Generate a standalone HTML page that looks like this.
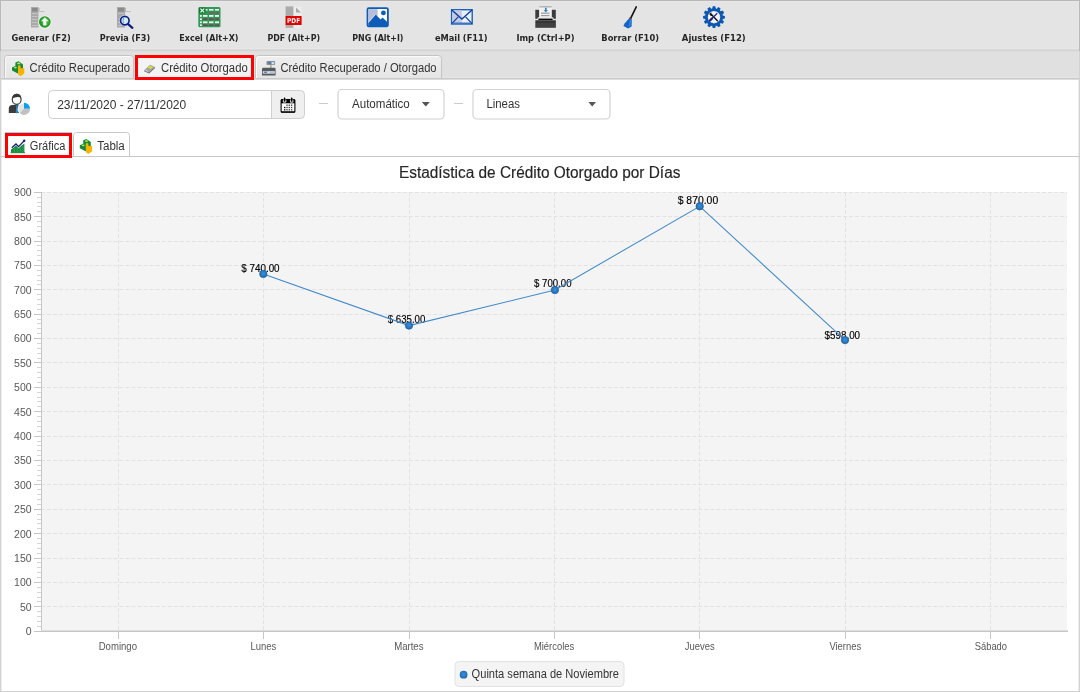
<!DOCTYPE html>
<html><head><meta charset="utf-8"><title>Estadística de Crédito Otorgado</title>
<style>
html,body{margin:0;padding:0;width:1080px;height:692px;overflow:hidden;background:#fff;}
svg{display:block;}
text{white-space:pre;}
</style></head><body>
<svg width="1080" height="692" viewBox="0 0 1080 692" shape-rendering="auto">
<defs>
<linearGradient id="tabg" x1="0" y1="0" x2="0" y2="1"><stop offset="0" stop-color="#efefef"/><stop offset="1" stop-color="#e5e5e5"/></linearGradient>
<radialGradient id="dot" cx="0.5" cy="0.45" r="0.55"><stop offset="0" stop-color="#3a8fd6"/><stop offset="0.6" stop-color="#2a7bc4"/><stop offset="1" stop-color="#1e65a8"/></radialGradient>
</defs>
<rect x="0" y="0" width="1080" height="692" fill="#fff"/>
<rect x="0" y="0" width="1080" height="50" fill="#e4e4e4"/>
<rect x="0" y="48" width="1080" height="1" fill="#e7e7e7"/>
<rect x="0" y="49" width="1080" height="1" fill="#dadada"/>
<rect x="0" y="50" width="1080" height="1" fill="#d4d4d4"/>
<rect x="0" y="51" width="1080" height="26" fill="#e0e0e0"/>
<rect x="0" y="51" width="1080" height="1" fill="#dcdcdc"/>
<rect x="0" y="77" width="1080" height="1" fill="#e6e6e6"/>
<rect x="0" y="78" width="1080" height="1" fill="#c9c9c9"/>
<rect x="0" y="79" width="1080" height="1" fill="#dcdcdc"/>
<rect x="0" y="0" width="1080" height="1" fill="#b8b8b8"/>
<rect x="1" y="1" width="1078" height="1" fill="#e8e8e8"/>
<rect x="0" y="0" width="1" height="51" fill="#b8b8b8"/>
<rect x="1079" y="0" width="1" height="51" fill="#b8b8b8"/>
<rect x="1" y="1" width="1" height="47" fill="#e8e8e8"/>
<rect x="1078" y="1" width="1" height="47" fill="#e8e8e8"/>
<rect x="0" y="51" width="1" height="641" fill="#d2d2d2"/>
<rect x="1079" y="51" width="1" height="641" fill="#d2d2d2"/>
<rect x="1" y="80" width="1" height="611" fill="#ececec"/>
<rect x="1078" y="80" width="1" height="611" fill="#ececec"/>
<rect x="0" y="691" width="1080" height="1" fill="#d0d0d0"/>
<text x="11.4" y="41.0" font-family="DejaVu Sans Condensed, sans-serif" font-size="9.5" font-weight="700" fill="#262626" text-anchor="start" textLength="59.3" lengthAdjust="spacingAndGlyphs" >Generar (F2)</text>
<text x="99.8" y="41.0" font-family="DejaVu Sans Condensed, sans-serif" font-size="9.5" font-weight="700" fill="#262626" text-anchor="start" textLength="50.3" lengthAdjust="spacingAndGlyphs" >Previa (F3)</text>
<text x="179.3" y="41.0" font-family="DejaVu Sans Condensed, sans-serif" font-size="9.5" font-weight="700" fill="#262626" text-anchor="start" textLength="59.2" lengthAdjust="spacingAndGlyphs" >Excel (Alt+X)</text>
<text x="267.4" y="41.0" font-family="DejaVu Sans Condensed, sans-serif" font-size="9.5" font-weight="700" fill="#262626" text-anchor="start" textLength="52.7" lengthAdjust="spacingAndGlyphs" >PDF (Alt+P)</text>
<text x="352.3" y="41.0" font-family="DejaVu Sans Condensed, sans-serif" font-size="9.5" font-weight="700" fill="#262626" text-anchor="start" textLength="51.2" lengthAdjust="spacingAndGlyphs" >PNG (Alt+I)</text>
<text x="434.9" y="41.0" font-family="DejaVu Sans Condensed, sans-serif" font-size="9.5" font-weight="700" fill="#262626" text-anchor="start" textLength="52.7" lengthAdjust="spacingAndGlyphs" >eMail (F11)</text>
<text x="516.4" y="41.0" font-family="DejaVu Sans Condensed, sans-serif" font-size="9.5" font-weight="700" fill="#262626" text-anchor="start" textLength="58.1" lengthAdjust="spacingAndGlyphs" >Imp (Ctrl+P)</text>
<text x="601.3" y="41.0" font-family="DejaVu Sans Condensed, sans-serif" font-size="9.5" font-weight="700" fill="#262626" text-anchor="start" textLength="57.7" lengthAdjust="spacingAndGlyphs" >Borrar (F10)</text>
<text x="681.8" y="41.0" font-family="DejaVu Sans Condensed, sans-serif" font-size="9.5" font-weight="700" fill="#262626" text-anchor="start" textLength="63.9" lengthAdjust="spacingAndGlyphs" >Ajustes (F12)</text>
<path d="M4.5,78 V58.5 Q4.5,55.5 7.5,55.5 H130.5 Q133.5,55.5 133.5,58.5 V78" fill="url(#tabg)" stroke="#c4c4c4" stroke-width="1"/>
<path d="M5.5,78 V58.5 Q5.5,56.5 7.5,56.5 H130.5" fill="none" stroke="#fafafa" stroke-width="1"/>
<path d="M255.5,78 V58.5 Q255.5,55.5 258.5,55.5 H438.5 Q441.5,55.5 441.5,58.5 V78" fill="url(#tabg)" stroke="#c4c4c4" stroke-width="1"/>
<path d="M256.5,78 V58.5 Q256.5,56.5 258.5,56.5 H438.5" fill="none" stroke="#fafafa" stroke-width="1"/>
<rect x="136" y="56" width="117" height="23" fill="#f3f3f3"/>
<rect x="136.5" y="56.5" width="116" height="22" fill="none" stroke="#ff0000" stroke-width="3"/>
<text x="29.6" y="72.2" font-family="Liberation Sans, sans-serif" font-size="12" font-weight="400" fill="#333" text-anchor="start" textLength="100.4" lengthAdjust="spacingAndGlyphs" >Crédito Recuperado</text>
<text x="161.1" y="72.0" font-family="Liberation Sans, sans-serif" font-size="12" font-weight="400" fill="#333" text-anchor="start" textLength="86.6" lengthAdjust="spacingAndGlyphs" >Crédito Otorgado</text>
<text x="280.4" y="72.2" font-family="Liberation Sans, sans-serif" font-size="12" font-weight="400" fill="#333" text-anchor="start" textLength="156.2" lengthAdjust="spacingAndGlyphs" >Crédito Recuperado / Otorgado</text>
<path d="M52.5,90.5 H271.5 V118.5 H52.5 Q48.5,118.5 48.5,114.5 V94.5 Q48.5,90.5 52.5,90.5 Z" fill="#fff" stroke="#cfcfcf"/>
<path d="M271.5,90.5 H300.5 Q304.5,90.5 304.5,94.5 V114.5 Q304.5,118.5 300.5,118.5 H271.5 Z" fill="#efefef" stroke="#cfcfcf"/>
<text x="57.2" y="108.6" font-family="Liberation Sans, sans-serif" font-size="12" font-weight="400" fill="#333" text-anchor="start" textLength="129" lengthAdjust="spacingAndGlyphs" >23/11/2020 - 27/11/2020</text>
<rect x="319" y="103" width="9" height="1" fill="#cccccc"/>
<rect x="454" y="103" width="9" height="1" fill="#cccccc"/>
<rect x="338" y="89.5" width="106" height="29.5" rx="4" fill="#fff" stroke="#d2d2d2" stroke-width="1.2"/>
<rect x="473" y="89.5" width="137" height="29.5" rx="4" fill="#fff" stroke="#d2d2d2" stroke-width="1.2"/>
<text x="352.0" y="108.0" font-family="Liberation Sans, sans-serif" font-size="12" font-weight="400" fill="#333" text-anchor="start" textLength="57.8" lengthAdjust="spacingAndGlyphs" >Automático</text>
<text x="486.4" y="108.0" font-family="Liberation Sans, sans-serif" font-size="12" font-weight="400" fill="#333" text-anchor="start" textLength="33.6" lengthAdjust="spacingAndGlyphs" >Lineas</text>
<path d="M421.8,102 h8 l-4,4.6 z" fill="#555"/>
<path d="M588.4,102 h7.6 l-3.8,4.6 z" fill="#555"/>
<rect x="0" y="156" width="1080" height="1" fill="#c8c8c8"/>
<path d="M73.5,156 V135.5 Q73.5,132.5 76.5,132.5 H126.5 Q129.5,132.5 129.5,135.5 V156" fill="#fff" stroke="#c8c8c8"/>
<rect x="5" y="132" width="67" height="1" fill="#8fd3f5"/>
<rect x="5" y="133" width="67" height="24" fill="#fff"/>
<rect x="6.5" y="134.5" width="64" height="22" fill="none" stroke="#ff0000" stroke-width="3"/>
<text x="29.8" y="150.0" font-family="Liberation Sans, sans-serif" font-size="12" font-weight="400" fill="#333" text-anchor="start" textLength="35.6" lengthAdjust="spacingAndGlyphs" >Gráfica</text>
<text x="97.2" y="149.8" font-family="Liberation Sans, sans-serif" font-size="12" font-weight="400" fill="#333" text-anchor="start" textLength="27.6" lengthAdjust="spacingAndGlyphs" >Tabla</text>
<rect x="42" y="192" width="1025" height="439" fill="#f4f4f4"/>
<line x1="41" y1="606.5" x2="1067" y2="606.5" stroke="#e2e2e2" stroke-width="1" stroke-dasharray="4.02 2.01"/>
<line x1="41" y1="582.5" x2="1067" y2="582.5" stroke="#e2e2e2" stroke-width="1" stroke-dasharray="4.02 2.01"/>
<line x1="41" y1="558.5" x2="1067" y2="558.5" stroke="#e2e2e2" stroke-width="1" stroke-dasharray="4.02 2.01"/>
<line x1="41" y1="533.5" x2="1067" y2="533.5" stroke="#e2e2e2" stroke-width="1" stroke-dasharray="4.02 2.01"/>
<line x1="41" y1="509.5" x2="1067" y2="509.5" stroke="#e2e2e2" stroke-width="1" stroke-dasharray="4.02 2.01"/>
<line x1="41" y1="484.5" x2="1067" y2="484.5" stroke="#e2e2e2" stroke-width="1" stroke-dasharray="4.02 2.01"/>
<line x1="41" y1="460.5" x2="1067" y2="460.5" stroke="#e2e2e2" stroke-width="1" stroke-dasharray="4.02 2.01"/>
<line x1="41" y1="436.5" x2="1067" y2="436.5" stroke="#e2e2e2" stroke-width="1" stroke-dasharray="4.02 2.01"/>
<line x1="41" y1="411.5" x2="1067" y2="411.5" stroke="#e2e2e2" stroke-width="1" stroke-dasharray="4.02 2.01"/>
<line x1="41" y1="387.5" x2="1067" y2="387.5" stroke="#e2e2e2" stroke-width="1" stroke-dasharray="4.02 2.01"/>
<line x1="41" y1="362.5" x2="1067" y2="362.5" stroke="#e2e2e2" stroke-width="1" stroke-dasharray="4.02 2.01"/>
<line x1="41" y1="338.5" x2="1067" y2="338.5" stroke="#e2e2e2" stroke-width="1" stroke-dasharray="4.02 2.01"/>
<line x1="41" y1="314.5" x2="1067" y2="314.5" stroke="#e2e2e2" stroke-width="1" stroke-dasharray="4.02 2.01"/>
<line x1="41" y1="289.5" x2="1067" y2="289.5" stroke="#e2e2e2" stroke-width="1" stroke-dasharray="4.02 2.01"/>
<line x1="41" y1="265.5" x2="1067" y2="265.5" stroke="#e2e2e2" stroke-width="1" stroke-dasharray="4.02 2.01"/>
<line x1="41" y1="241.5" x2="1067" y2="241.5" stroke="#e2e2e2" stroke-width="1" stroke-dasharray="4.02 2.01"/>
<line x1="41" y1="216.5" x2="1067" y2="216.5" stroke="#e2e2e2" stroke-width="1" stroke-dasharray="4.02 2.01"/>
<line x1="41" y1="192.5" x2="1067" y2="192.5" stroke="#e2e2e2" stroke-width="1" stroke-dasharray="4.02 2.01"/>
<line x1="118.5" y1="192" x2="118.5" y2="631" stroke="#e2e2e2" stroke-width="1" stroke-dasharray="4.02 2.01"/>
<line x1="263.5" y1="192" x2="263.5" y2="631" stroke="#e2e2e2" stroke-width="1" stroke-dasharray="4.02 2.01"/>
<line x1="409.5" y1="192" x2="409.5" y2="631" stroke="#e2e2e2" stroke-width="1" stroke-dasharray="4.02 2.01"/>
<line x1="554.5" y1="192" x2="554.5" y2="631" stroke="#e2e2e2" stroke-width="1" stroke-dasharray="4.02 2.01"/>
<line x1="699.5" y1="192" x2="699.5" y2="631" stroke="#e2e2e2" stroke-width="1" stroke-dasharray="4.02 2.01"/>
<line x1="845.5" y1="192" x2="845.5" y2="631" stroke="#e2e2e2" stroke-width="1" stroke-dasharray="4.02 2.01"/>
<line x1="990.5" y1="192" x2="990.5" y2="631" stroke="#e2e2e2" stroke-width="1" stroke-dasharray="4.02 2.01"/>
<rect x="41" y="192" width="1" height="440" fill="#c6c6c6"/>
<rect x="34" y="631" width="7" height="1" fill="#c6c6c6"/>
<rect x="37" y="626" width="4" height="1" fill="#d4d4d4"/>
<rect x="37" y="621" width="4" height="1" fill="#d4d4d4"/>
<rect x="37" y="616" width="4" height="1" fill="#d4d4d4"/>
<rect x="37" y="611" width="4" height="1" fill="#d4d4d4"/>
<text x="31.6" y="635.0" font-family="Liberation Sans, sans-serif" font-size="10.5" font-weight="400" fill="#575757" text-anchor="end" >0</text>
<rect x="34" y="606" width="7" height="1" fill="#c6c6c6"/>
<rect x="37" y="601" width="4" height="1" fill="#d4d4d4"/>
<rect x="37" y="597" width="4" height="1" fill="#d4d4d4"/>
<rect x="37" y="592" width="4" height="1" fill="#d4d4d4"/>
<rect x="37" y="587" width="4" height="1" fill="#d4d4d4"/>
<text x="31.6" y="610.6" font-family="Liberation Sans, sans-serif" font-size="10.5" font-weight="400" fill="#575757" text-anchor="end" >50</text>
<rect x="34" y="582" width="7" height="1" fill="#c6c6c6"/>
<rect x="37" y="577" width="4" height="1" fill="#d4d4d4"/>
<rect x="37" y="572" width="4" height="1" fill="#d4d4d4"/>
<rect x="37" y="567" width="4" height="1" fill="#d4d4d4"/>
<rect x="37" y="562" width="4" height="1" fill="#d4d4d4"/>
<text x="31.6" y="586.2" font-family="Liberation Sans, sans-serif" font-size="10.5" font-weight="400" fill="#575757" text-anchor="end" >100</text>
<rect x="34" y="558" width="7" height="1" fill="#c6c6c6"/>
<rect x="37" y="553" width="4" height="1" fill="#d4d4d4"/>
<rect x="37" y="548" width="4" height="1" fill="#d4d4d4"/>
<rect x="37" y="543" width="4" height="1" fill="#d4d4d4"/>
<rect x="37" y="538" width="4" height="1" fill="#d4d4d4"/>
<text x="31.6" y="561.8" font-family="Liberation Sans, sans-serif" font-size="10.5" font-weight="400" fill="#575757" text-anchor="end" >150</text>
<rect x="34" y="533" width="7" height="1" fill="#c6c6c6"/>
<rect x="37" y="528" width="4" height="1" fill="#d4d4d4"/>
<rect x="37" y="523" width="4" height="1" fill="#d4d4d4"/>
<rect x="37" y="519" width="4" height="1" fill="#d4d4d4"/>
<rect x="37" y="514" width="4" height="1" fill="#d4d4d4"/>
<text x="31.6" y="537.5" font-family="Liberation Sans, sans-serif" font-size="10.5" font-weight="400" fill="#575757" text-anchor="end" >200</text>
<rect x="34" y="509" width="7" height="1" fill="#c6c6c6"/>
<rect x="37" y="504" width="4" height="1" fill="#d4d4d4"/>
<rect x="37" y="499" width="4" height="1" fill="#d4d4d4"/>
<rect x="37" y="494" width="4" height="1" fill="#d4d4d4"/>
<rect x="37" y="489" width="4" height="1" fill="#d4d4d4"/>
<text x="31.6" y="513.1" font-family="Liberation Sans, sans-serif" font-size="10.5" font-weight="400" fill="#575757" text-anchor="end" >250</text>
<rect x="34" y="484" width="7" height="1" fill="#c6c6c6"/>
<rect x="37" y="480" width="4" height="1" fill="#d4d4d4"/>
<rect x="37" y="475" width="4" height="1" fill="#d4d4d4"/>
<rect x="37" y="470" width="4" height="1" fill="#d4d4d4"/>
<rect x="37" y="465" width="4" height="1" fill="#d4d4d4"/>
<text x="31.6" y="488.7" font-family="Liberation Sans, sans-serif" font-size="10.5" font-weight="400" fill="#575757" text-anchor="end" >300</text>
<rect x="34" y="460" width="7" height="1" fill="#c6c6c6"/>
<rect x="37" y="455" width="4" height="1" fill="#d4d4d4"/>
<rect x="37" y="450" width="4" height="1" fill="#d4d4d4"/>
<rect x="37" y="445" width="4" height="1" fill="#d4d4d4"/>
<rect x="37" y="441" width="4" height="1" fill="#d4d4d4"/>
<text x="31.6" y="464.3" font-family="Liberation Sans, sans-serif" font-size="10.5" font-weight="400" fill="#575757" text-anchor="end" >350</text>
<rect x="34" y="436" width="7" height="1" fill="#c6c6c6"/>
<rect x="37" y="431" width="4" height="1" fill="#d4d4d4"/>
<rect x="37" y="426" width="4" height="1" fill="#d4d4d4"/>
<rect x="37" y="421" width="4" height="1" fill="#d4d4d4"/>
<rect x="37" y="416" width="4" height="1" fill="#d4d4d4"/>
<text x="31.6" y="439.9" font-family="Liberation Sans, sans-serif" font-size="10.5" font-weight="400" fill="#575757" text-anchor="end" >400</text>
<rect x="34" y="411" width="7" height="1" fill="#c6c6c6"/>
<rect x="37" y="406" width="4" height="1" fill="#d4d4d4"/>
<rect x="37" y="401" width="4" height="1" fill="#d4d4d4"/>
<rect x="37" y="397" width="4" height="1" fill="#d4d4d4"/>
<rect x="37" y="392" width="4" height="1" fill="#d4d4d4"/>
<text x="31.6" y="415.5" font-family="Liberation Sans, sans-serif" font-size="10.5" font-weight="400" fill="#575757" text-anchor="end" >450</text>
<rect x="34" y="387" width="7" height="1" fill="#c6c6c6"/>
<rect x="37" y="382" width="4" height="1" fill="#d4d4d4"/>
<rect x="37" y="377" width="4" height="1" fill="#d4d4d4"/>
<rect x="37" y="372" width="4" height="1" fill="#d4d4d4"/>
<rect x="37" y="367" width="4" height="1" fill="#d4d4d4"/>
<text x="31.6" y="391.2" font-family="Liberation Sans, sans-serif" font-size="10.5" font-weight="400" fill="#575757" text-anchor="end" >500</text>
<rect x="34" y="362" width="7" height="1" fill="#c6c6c6"/>
<rect x="37" y="358" width="4" height="1" fill="#d4d4d4"/>
<rect x="37" y="353" width="4" height="1" fill="#d4d4d4"/>
<rect x="37" y="348" width="4" height="1" fill="#d4d4d4"/>
<rect x="37" y="343" width="4" height="1" fill="#d4d4d4"/>
<text x="31.6" y="366.8" font-family="Liberation Sans, sans-serif" font-size="10.5" font-weight="400" fill="#575757" text-anchor="end" >550</text>
<rect x="34" y="338" width="7" height="1" fill="#c6c6c6"/>
<rect x="37" y="333" width="4" height="1" fill="#d4d4d4"/>
<rect x="37" y="328" width="4" height="1" fill="#d4d4d4"/>
<rect x="37" y="323" width="4" height="1" fill="#d4d4d4"/>
<rect x="37" y="319" width="4" height="1" fill="#d4d4d4"/>
<text x="31.6" y="342.4" font-family="Liberation Sans, sans-serif" font-size="10.5" font-weight="400" fill="#575757" text-anchor="end" >600</text>
<rect x="34" y="314" width="7" height="1" fill="#c6c6c6"/>
<rect x="37" y="309" width="4" height="1" fill="#d4d4d4"/>
<rect x="37" y="304" width="4" height="1" fill="#d4d4d4"/>
<rect x="37" y="299" width="4" height="1" fill="#d4d4d4"/>
<rect x="37" y="294" width="4" height="1" fill="#d4d4d4"/>
<text x="31.6" y="318.0" font-family="Liberation Sans, sans-serif" font-size="10.5" font-weight="400" fill="#575757" text-anchor="end" >650</text>
<rect x="34" y="289" width="7" height="1" fill="#c6c6c6"/>
<rect x="37" y="284" width="4" height="1" fill="#d4d4d4"/>
<rect x="37" y="280" width="4" height="1" fill="#d4d4d4"/>
<rect x="37" y="275" width="4" height="1" fill="#d4d4d4"/>
<rect x="37" y="270" width="4" height="1" fill="#d4d4d4"/>
<text x="31.6" y="293.6" font-family="Liberation Sans, sans-serif" font-size="10.5" font-weight="400" fill="#575757" text-anchor="end" >700</text>
<rect x="34" y="265" width="7" height="1" fill="#c6c6c6"/>
<rect x="37" y="260" width="4" height="1" fill="#d4d4d4"/>
<rect x="37" y="255" width="4" height="1" fill="#d4d4d4"/>
<rect x="37" y="250" width="4" height="1" fill="#d4d4d4"/>
<rect x="37" y="245" width="4" height="1" fill="#d4d4d4"/>
<text x="31.6" y="269.2" font-family="Liberation Sans, sans-serif" font-size="10.5" font-weight="400" fill="#575757" text-anchor="end" >750</text>
<rect x="34" y="241" width="7" height="1" fill="#c6c6c6"/>
<rect x="37" y="236" width="4" height="1" fill="#d4d4d4"/>
<rect x="37" y="231" width="4" height="1" fill="#d4d4d4"/>
<rect x="37" y="226" width="4" height="1" fill="#d4d4d4"/>
<rect x="37" y="221" width="4" height="1" fill="#d4d4d4"/>
<text x="31.6" y="244.9" font-family="Liberation Sans, sans-serif" font-size="10.5" font-weight="400" fill="#575757" text-anchor="end" >800</text>
<rect x="34" y="216" width="7" height="1" fill="#c6c6c6"/>
<rect x="37" y="211" width="4" height="1" fill="#d4d4d4"/>
<rect x="37" y="206" width="4" height="1" fill="#d4d4d4"/>
<rect x="37" y="202" width="4" height="1" fill="#d4d4d4"/>
<rect x="37" y="197" width="4" height="1" fill="#d4d4d4"/>
<text x="31.6" y="220.5" font-family="Liberation Sans, sans-serif" font-size="10.5" font-weight="400" fill="#575757" text-anchor="end" >850</text>
<rect x="34" y="192" width="7" height="1" fill="#c6c6c6"/>
<text x="31.6" y="196.1" font-family="Liberation Sans, sans-serif" font-size="10.5" font-weight="400" fill="#575757" text-anchor="end" >900</text>
<rect x="41" y="631" width="1027" height="1" fill="#c6c6c6"/>
<rect x="41" y="630" width="1027" height="1" fill="#dedede"/>
<rect x="118" y="632" width="1" height="7" fill="#c6c6c6"/>
<text x="98.7" y="650.0" font-family="Liberation Sans, sans-serif" font-size="10.5" font-weight="400" fill="#575757" text-anchor="start" textLength="38.3" lengthAdjust="spacingAndGlyphs" >Domingo</text>
<rect x="263" y="632" width="1" height="7" fill="#c6c6c6"/>
<text x="250.5" y="650.0" font-family="Liberation Sans, sans-serif" font-size="10.5" font-weight="400" fill="#575757" text-anchor="start" textLength="25.8" lengthAdjust="spacingAndGlyphs" >Lunes</text>
<rect x="409" y="632" width="1" height="7" fill="#c6c6c6"/>
<text x="394.2" y="650.0" font-family="Liberation Sans, sans-serif" font-size="10.5" font-weight="400" fill="#575757" text-anchor="start" textLength="29.3" lengthAdjust="spacingAndGlyphs" >Martes</text>
<rect x="554" y="632" width="1" height="7" fill="#c6c6c6"/>
<text x="533.9" y="650.0" font-family="Liberation Sans, sans-serif" font-size="10.5" font-weight="400" fill="#575757" text-anchor="start" textLength="40.3" lengthAdjust="spacingAndGlyphs" >Miércoles</text>
<rect x="699" y="632" width="1" height="7" fill="#c6c6c6"/>
<text x="684.8" y="650.0" font-family="Liberation Sans, sans-serif" font-size="10.5" font-weight="400" fill="#575757" text-anchor="start" textLength="29.9" lengthAdjust="spacingAndGlyphs" >Jueves</text>
<rect x="845" y="632" width="1" height="7" fill="#c6c6c6"/>
<text x="829.4" y="650.0" font-family="Liberation Sans, sans-serif" font-size="10.5" font-weight="400" fill="#575757" text-anchor="start" textLength="31.8" lengthAdjust="spacingAndGlyphs" >Viernes</text>
<rect x="990" y="632" width="1" height="7" fill="#c6c6c6"/>
<text x="974.8" y="650.0" font-family="Liberation Sans, sans-serif" font-size="10.5" font-weight="400" fill="#575757" text-anchor="start" textLength="32.2" lengthAdjust="spacingAndGlyphs" >Sábado</text>
<text x="241.3" y="271.7" font-family="Liberation Sans, sans-serif" font-size="10" font-weight="400" fill="#000" text-anchor="start" textLength="38.3" lengthAdjust="spacingAndGlyphs" stroke="#000" stroke-width="0.15">$ 740.00</text>
<text x="387.7" y="322.8" font-family="Liberation Sans, sans-serif" font-size="10" font-weight="400" fill="#000" text-anchor="start" textLength="37.7" lengthAdjust="spacingAndGlyphs" stroke="#000" stroke-width="0.15">$ 635.00</text>
<text x="534.0" y="286.7" font-family="Liberation Sans, sans-serif" font-size="10" font-weight="400" fill="#000" text-anchor="start" textLength="37.5" lengthAdjust="spacingAndGlyphs" stroke="#000" stroke-width="0.15">$ 700.00</text>
<text x="677.7" y="203.6" font-family="Liberation Sans, sans-serif" font-size="10" font-weight="400" fill="#000" text-anchor="start" textLength="40.5" lengthAdjust="spacingAndGlyphs" stroke="#000" stroke-width="0.15">$ 870.00</text>
<text x="824.6" y="338.7" font-family="Liberation Sans, sans-serif" font-size="10" font-weight="400" fill="#000" text-anchor="start" textLength="35.5" lengthAdjust="spacingAndGlyphs" stroke="#000" stroke-width="0.15">$598.00</text>
<polyline points="263.3,273.9 409.0,325.6 554.9,290.0 699.7,206.3 845.0,340.1" fill="none" stroke="#4189cb" stroke-width="1.05"/>
<circle cx="263.3" cy="273.9" r="3.7" fill="url(#dot)" stroke="#1c5e9e" stroke-width="0.7"/>
<circle cx="409.0" cy="325.6" r="3.7" fill="url(#dot)" stroke="#1c5e9e" stroke-width="0.7"/>
<circle cx="554.9" cy="290.0" r="3.7" fill="url(#dot)" stroke="#1c5e9e" stroke-width="0.7"/>
<circle cx="699.7" cy="206.3" r="3.7" fill="url(#dot)" stroke="#1c5e9e" stroke-width="0.7"/>
<circle cx="845.0" cy="340.1" r="3.7" fill="url(#dot)" stroke="#1c5e9e" stroke-width="0.7"/>
<text x="399.0" y="178.0" font-family="Liberation Sans, sans-serif" font-size="16" font-weight="400" fill="#262626" text-anchor="start" textLength="281.4" lengthAdjust="spacingAndGlyphs" stroke="#262626" stroke-width="0.15">Estadística de Crédito Otorgado por Días</text>
<rect x="455" y="661.5" width="169" height="25" rx="4" fill="#f4f4f4" stroke="#e2e2e2"/>
<circle cx="463.6" cy="674.7" r="3.9" fill="url(#dot)"/>
<text x="471.6" y="678.1" font-family="Liberation Sans, sans-serif" font-size="12" font-weight="400" fill="#333" text-anchor="start" textLength="147.4" lengthAdjust="spacingAndGlyphs" >Quinta semana de Noviembre</text>
<!-- toolbar icons -->
<g id="ic-generar">
  <rect x="31" y="7" width="7.5" height="20.5" fill="#a9a9a9"/>
  <rect x="32" y="8" width="5.5" height="3.5" fill="#8a8a8a"/>
  <rect x="32" y="13" width="5.5" height="1" fill="#c4c4c4"/>
  <rect x="32" y="16" width="5.5" height="1" fill="#c4c4c4"/>
  <rect x="32" y="19" width="5.5" height="1" fill="#c4c4c4"/>
  <rect x="32" y="22" width="5.5" height="1" fill="#c4c4c4"/>
  <rect x="32" y="25" width="5.5" height="1" fill="#c4c4c4"/>
  <rect x="38.5" y="8" width="1" height="4" fill="#b0b0b0"/>
  <rect x="39.5" y="11" width="5" height="1" fill="#c0c0c0"/>
  <circle cx="44.8" cy="22" r="6.6" fill="#f2f2f2"/>
  <circle cx="44.8" cy="22" r="5.8" fill="#1e9a1e"/>
  <circle cx="45.3" cy="21.5" r="4" fill="#3bb53b"/>
  <path d="M44.8,17.2 L48.6,21.2 H46.4 V25.6 H43.2 V21.2 H41 Z" fill="#f4f4f4"/>
</g>
<g id="ic-previa">
  <rect x="117" y="7" width="8" height="20.5" fill="#a9a9a9"/>
  <rect x="118" y="8" width="6" height="3.5" fill="#8a8a8a"/>
  <rect x="118" y="13" width="6" height="1" fill="#c4c4c4"/>
  <rect x="118" y="22" width="6" height="1" fill="#c4c4c4"/>
  <rect x="118" y="25" width="6" height="1" fill="#c4c4c4"/>
  <rect x="125" y="8" width="1" height="4" fill="#b0b0b0"/>
  <rect x="126" y="11" width="5" height="1" fill="#c0c0c0"/>
  <circle cx="124.8" cy="20.6" r="5.6" fill="#f0f0f0"/>
  <line x1="127.6" y1="23.6" x2="132.4" y2="27.8" stroke="#101f7a" stroke-width="2.2" stroke-linecap="round"/>
  <circle cx="124.8" cy="20.6" r="4.3" fill="#cfeefa" stroke="#0e1d86" stroke-width="1.7"/>
  <path d="M123.6,17.8 Q122.4,20.6 123.6,23.2" stroke="#7a9ccf" stroke-width="1.2" fill="none"/>
</g>
<g id="ic-excel">
  <rect x="198.3" y="7" width="22.2" height="20.3" rx="1.5" fill="#2f9a55"/>
  <g fill="#f4f4f4">
    <rect x="205.5" y="9" width="2" height="1.6"/><rect x="209" y="9" width="4.5" height="1.6"/><rect x="215" y="9" width="4" height="1.6"/>
    <rect x="209" y="12" width="4.5" height="1.6" fill="#7a5a66"/><rect x="215" y="12" width="4" height="1.6" fill="#7a5a66"/>
    <rect x="200" y="15" width="1.8" height="1.8"/><rect x="203" y="15" width="4.5" height="1.8"/><rect x="209" y="15" width="4.5" height="1.8"/><rect x="215" y="15" width="4" height="1.8"/>
    <rect x="200" y="18.3" width="1.8" height="1.8"/><rect x="203" y="18.3" width="4.5" height="1.8" fill="#6e4a58"/><rect x="209" y="18.3" width="4.5" height="1.8" fill="#6e4a58"/><rect x="215" y="18.3" width="4" height="1.8" fill="#6e4a58"/>
    <rect x="200" y="21.4" width="1.8" height="1.8"/><rect x="203" y="21.4" width="4.5" height="1.8"/><rect x="209" y="21.4" width="4.5" height="1.8"/><rect x="215" y="21.4" width="4" height="1.8"/>
    <rect x="200" y="24.4" width="1.8" height="1.6"/><rect x="203" y="24.4" width="4.5" height="1.6" fill="#6e4a58"/><rect x="209" y="24.4" width="4.5" height="1.6" fill="#6e4a58"/><rect x="215" y="24.4" width="4" height="1.6" fill="#6e4a58"/>
  </g>
  <rect x="199" y="7.6" width="6.4" height="5.8" fill="#0f7a2a"/>
  <path d="M200.4,8.6 L204.2,12.4 M204.2,8.6 L200.4,12.4" stroke="#f4f4f4" stroke-width="1.3"/>
</g>
<g id="ic-pdf">
  <rect x="285.6" y="6.4" width="8" height="21.4" fill="#ababab"/>
  <rect x="293.6" y="6.4" width="8" height="21.4" fill="#ededed"/>
  <path d="M296,7.4 L301,12.6 H296 Z" fill="#a8a8a8"/>
  <rect x="285.6" y="16" width="16" height="9" fill="#e00000"/>
  <text x="293.6" y="23.4" font-family="DejaVu Sans Condensed, sans-serif" font-size="6.6" font-weight="700" fill="#fff" text-anchor="middle" textLength="13" lengthAdjust="spacingAndGlyphs">PDF</text>
</g>
<g id="ic-png">
  <rect x="367.5" y="8.2" width="20.4" height="18.2" rx="1.3" fill="#fff" stroke="#0d5cb8" stroke-width="1.8"/>
  <rect x="368.4" y="9.1" width="9.2" height="16" fill="#b7bedb"/>
  <path d="M368.4,22.5 L375.5,14.4 L380.6,19.4 L382.5,17.5 L387,21.8 V26.4 H368.4 Z" fill="#0d5cb8"/>
  <path d="M368.4,22.5 L375.5,14.4" stroke="#f4f4f4" stroke-width="0.8"/>
  <circle cx="383.4" cy="12.9" r="2.4" fill="#0d5cb8"/>
</g>
<g id="ic-email">
  <rect x="451.6" y="9.7" width="20.6" height="14.3" fill="#eceff6" stroke="#1662c0" stroke-width="1.4"/>
  <rect x="452.3" y="10.4" width="9.6" height="12.9" fill="#c5cbe0"/>
  <path d="M451.8,10 L461.9,19 L472,10" stroke="#0e3fa6" stroke-width="1.4" fill="none"/>
  <path d="M451.8,23.7 L458.2,16.8 M472,23.7 L465.6,16.8" stroke="#0e3fa6" stroke-width="1.2" fill="none"/>
  <rect x="453" y="22.5" width="18" height="1.4" fill="#3a74c0"/>
</g>
<g id="ic-print">
  <rect x="539" y="5.8" width="13" height="12.5" fill="#f2f2f2"/>
  <rect x="539.2" y="6" width="12.6" height="1.5" fill="#b4b4b4"/>
  <rect x="541" y="12.6" width="8.5" height="1.2" fill="#9a9a9a"/>
  <rect x="541" y="15" width="8.5" height="1.2" fill="#9a9a9a"/>
  <path d="M545,7.8 v2.5 h-1.5 l2.3,2 l2.3,-2 h-1.5 v-2.5 z" fill="#2a7fd0"/>
  <rect x="535.3" y="9.8" width="3.8" height="9" fill="#3c3c3c"/>
  <rect x="551.8" y="9.8" width="4" height="9" fill="#3c3c3c"/>
  <rect x="537.5" y="17.2" width="16" height="2.5" rx="1" fill="#e8e8e8"/>
  <rect x="538.4" y="18.6" width="14.2" height="1.6" fill="#0a0a0a"/>
  <rect x="535.3" y="20.2" width="20.6" height="7.6" fill="#404040"/>
  <rect x="536" y="21.6" width="19" height="0.8" fill="#262626"/>
</g>
<g id="ic-broom">
  <line x1="636.2" y1="7" x2="630.4" y2="18.8" stroke="#141414" stroke-width="1.7" stroke-linecap="round"/>
  <path d="M629.2,18.2 L631.8,19.3 L631.6,26.5 L628.2,28.6 L623.4,26 L624.6,23.4 Z" fill="#1464c8"/>
  <path d="M630,19.5 L631.2,20 L630.2,26 L628.5,27.2 Z" fill="#2f8be0"/>
  <rect x="629.2" y="17.7" width="2.2" height="1.2" fill="#7a3a2a" transform="rotate(25 630.3 18.3)"/>
</g>
<g id="ic-gear">
  <g fill="#0a58b4">
    <circle cx="714" cy="17.2" r="8.8"/>
  </g>
  <path d="M712.25,8.58 L712.68,6.28 L715.32,6.28 L715.75,8.58 L716.80,8.86 L718.32,7.08 L720.60,8.40 L719.83,10.61 L720.59,11.37 L722.80,10.60 L724.12,12.88 L722.34,14.40 L722.62,15.45 L724.92,15.88 L724.92,18.52 L722.62,18.95 L722.34,20.00 L724.12,21.52 L722.80,23.80 L720.59,23.03 L719.83,23.79 L720.60,26.00 L718.32,27.32 L716.80,25.54 L715.75,25.82 L715.32,28.12 L712.68,28.12 L712.25,25.82 L711.20,25.54 L709.68,27.32 L707.40,26.00 L708.17,23.79 L707.41,23.03 L705.20,23.80 L703.88,21.52 L705.66,20.00 L705.38,18.95 L703.08,18.52 L703.08,15.88 L705.38,15.45 L705.66,14.40 L703.88,12.88 L705.20,10.60 L707.41,11.37 L708.17,10.61 L707.40,8.40 L709.68,7.08 L711.20,8.86 Z" fill="#0a58b4"/>
  <circle cx="714" cy="17.2" r="6.2" fill="#dcdcdc"/>
  <circle cx="714" cy="17.2" r="5.6" fill="#f4f4f4"/>
  <path d="M710.6,13.8 L717.4,20.8" stroke="#111" stroke-width="1.4" stroke-linecap="round"/>
  <path d="M709.6,14.8 Q709.2,12.6 711.6,12.6 L711,13.9 L712,14.9 L713.2,14.4 Q713.2,16.4 711,16" fill="#111"/>
  <path d="M717.2,13.2 L710.8,19.8" stroke="#2a2a8a" stroke-width="1.3"/>
  <path d="M712,18.4 L710,20.6" stroke="#20207a" stroke-width="2.2" stroke-linecap="round"/>
</g>
<!-- tab icons -->
<g id="ic-money1">
  <path d="M12,67.5 L15.4,66 L15.4,62.6 L18.6,61.2 L23,64.4 L23,70 L17.8,73.6 L12,70.6 Z" fill="#178a38"/>
  <ellipse cx="18.7" cy="63.4" rx="1.6" ry="0.9" fill="#a8ec5a"/>
  <ellipse cx="15.4" cy="67.6" rx="1.4" ry="0.9" fill="#a8ec5a"/>
  <path d="M18,74.2 V66.6 Q18,65.3 19.3,65.3 Q20.6,65.3 20.6,66.6 V68.2 H24.3 V73.6 L20.5,76.3 Z" fill="#f6b400"/>
</g>
<g id="ic-otorg">
  <path d="M144.2,70.2 L150,64.8 L155,67 L149,72.6 Z" fill="#a4a4a4"/>
  <path d="M144.2,70.2 L149,72.6 L149,73.6 L144.2,71.2 Z" fill="#6c6c6c"/>
  <path d="M149,72.6 L155,67 L155,68 L149,73.6 Z" fill="#505050"/>
  <path d="M147.8,67.4 Q149.4,65.6 150.8,65.9 L153,67.1 Q152,68.8 150.4,69 Z" fill="#d9de2a"/>
  <path d="M145.6,70.2 L147.8,71.2" stroke="#e8e8e8" stroke-width="0.8"/>
</g>
<g id="ic-reg">
  <rect x="266.5" y="61" width="8.6" height="4" rx="1" fill="#8c8c8c"/>
  <rect x="268" y="62.3" width="3" height="1.3" fill="#2a7ad0"/>
  <rect x="271.6" y="62" width="2.6" height="2.2" fill="#cfe3f7"/>
  <rect x="270.2" y="65" width="1.3" height="3" fill="#a0a0a0"/>
  <path d="M262,69 Q262,67.8 263.4,67.8 H274.4 Q275.6,67.8 275.6,69 V75.4 H262 Z" fill="#5a5a5a"/>
  <rect x="262.8" y="71.2" width="12" height="2.4" fill="#e8e8e8"/>
  <rect x="263.8" y="71.6" width="3.4" height="1.4" fill="#4a8ad0"/>
  <rect x="269.6" y="71.6" width="4.2" height="1.6" fill="#9ac4ee"/>
</g>
<g id="ic-user">
  <path d="M8.8,113 V108.4 Q8.8,105.2 12.4,105 L15.4,104.8 H18.6 L18.8,113 Z" fill="#3c3c3c"/>
  <path d="M15.6,104.8 L17.7,104.8 L17.3,106.4 L18,112.6 L16.6,113.4 L15.7,112.4 L16.3,106.4 Z" fill="#1a8ce0"/>
  <ellipse cx="16.7" cy="99.4" rx="4.4" ry="5" fill="#fff" stroke="#383838" stroke-width="1.2"/>
  <path d="M12.4,98.6 Q12.2,94 16.8,93.8 Q21.2,94 21,98.2 Q19,96.2 14.8,97.6 Z" fill="#383838"/>
  <circle cx="24" cy="108.8" r="6" fill="#e4e4e4"/>
  <path d="M24,108.8 V102.8 A6,6 0 0 1 30,108.8 Z" fill="#0aa0f0"/>
  <path d="M24,108.8 H30 A6,6 0 0 1 19.8,113.1 Z" fill="#c0c0c0"/>
  <path d="M24,102.8 A6,6 0 0 0 19.8,113.1" stroke="#fff" stroke-width="1" fill="none"/>
</g>
<g id="ic-cal">
  <rect x="281.1" y="99.6" width="13.8" height="12.6" rx="1" fill="#fff" stroke="#000" stroke-width="1.1"/>
  <path d="M281,99.4 H295 V103.3 H281 Z" fill="#000"/>
  <ellipse cx="284.6" cy="100.9" rx="1.9" ry="1.9" fill="#d8d8d8"/>
  <ellipse cx="291.7" cy="100.9" rx="1.9" ry="1.9" fill="#d8d8d8"/>
  <rect x="283.8" y="97.6" width="1.6" height="4.2" rx="0.8" fill="#000"/>
  <rect x="290.9" y="97.6" width="1.6" height="4.2" rx="0.8" fill="#000"/>
  <g fill="#4a4a4a">
    <rect x="286.3" y="104.5" width="1.4" height="1.4"/><rect x="288.6" y="104.5" width="1.4" height="1.4"/><rect x="290.9" y="104.5" width="1.4" height="1.4"/>
    <rect x="284" y="106.8" width="1.4" height="1.4" fill="#111"/><rect x="286.3" y="106.8" width="1.4" height="1.4"/><rect x="288.6" y="106.8" width="1.4" height="1.4"/><rect x="290.9" y="106.8" width="1.4" height="1.4"/>
    <rect x="284" y="109.1" width="1.4" height="1.4" fill="#111"/><rect x="286.3" y="109.1" width="1.4" height="1.4"/><rect x="288.6" y="109.1" width="1.4" height="1.4"/><rect x="290.9" y="109.1" width="1.4" height="1.4"/>
  </g>
  <rect x="281" y="111.3" width="14" height="1.2" fill="#000"/>
</g>
<g id="ic-graf">
  <path d="M11,152.8 V149.5 L14,147.5 L16,145.6 L18.6,148.2 L21.6,145.5 L24.4,143.6 V152.8 Z" fill="#168a3e"/>
  <g stroke="#47ad6c" stroke-width="0.7"><line x1="14.5" y1="148.5" x2="14.5" y2="152"/><line x1="17.3" y1="148" x2="17.3" y2="152"/><line x1="20.2" y1="147.5" x2="20.2" y2="152"/><line x1="22.9" y1="146" x2="22.9" y2="152"/></g>
  <rect x="10.6" y="152.2" width="14.4" height="1" fill="#168a3e"/>
  <path d="M11.8,147.8 L16,144 L18.6,146.6 L24.2,140.8" stroke="#1c1c78" stroke-width="1.3" fill="none"/>
  <circle cx="24.2" cy="140.8" r="1.2" fill="#1c1c78"/>
</g>
<use href="#ic-money1" transform="translate(67.8,77.7)"/>

</svg>
</body></html>
